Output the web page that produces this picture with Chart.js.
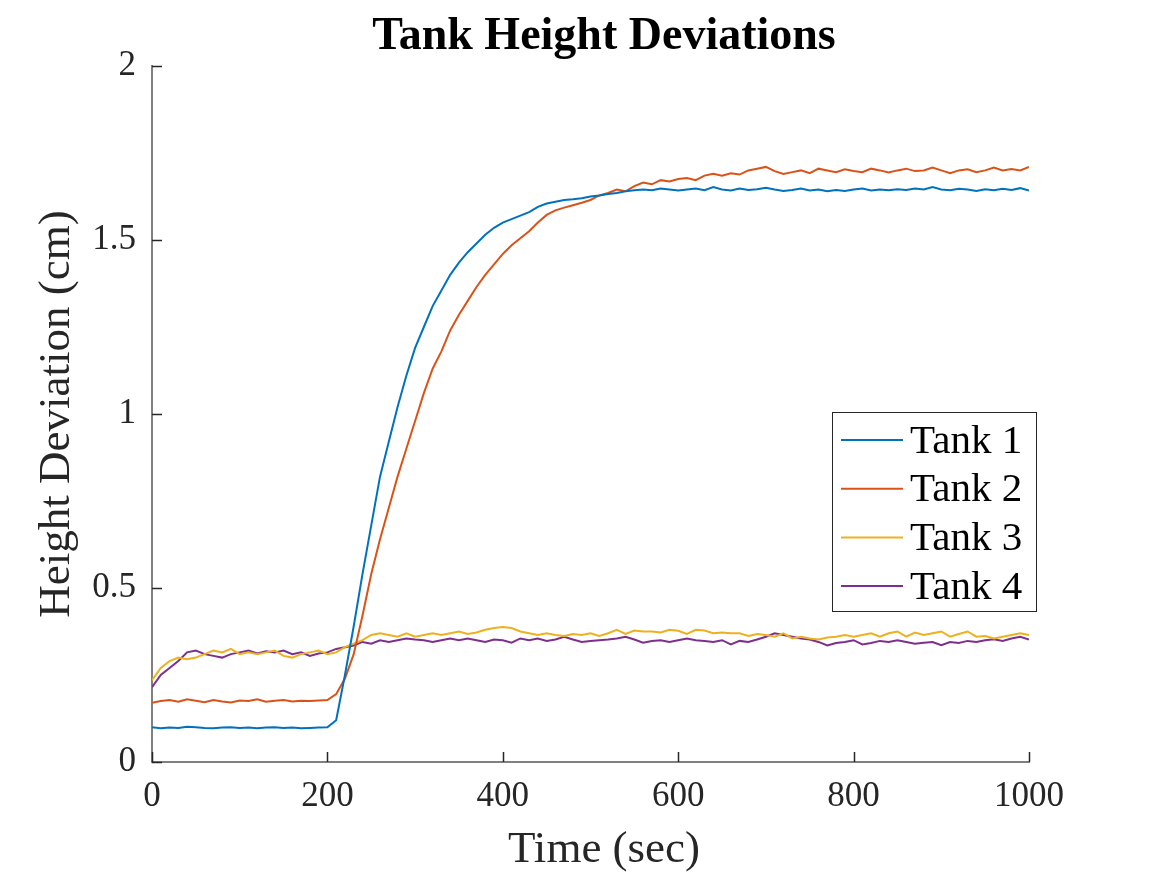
<!DOCTYPE html>
<html>
<head>
<meta charset="utf-8">
<script src="https://cdn.jsdelivr.net/npm/chart.js@4.4.1/dist/chart.umd.min.js"></script>
<style>
  html, body { margin: 0; padding: 0; background: #fff; }
</style>
</head>
<body>
<canvas id="myChart" width="1167" height="875"></canvas>
<script>
// time stamps (sec)
const time = [0, 10, 20, 30, 40, 50, 60, 70, 80, 90,
  100, 110, 120, 130, 140, 150, 160, 170, 180, 190,
  200, 210, 220, 230, 240, 250, 260, 270, 280, 290,
  300, 310, 320, 330, 340, 350, 360, 370, 380, 390,
  400, 410, 420, 430, 440, 450, 460, 470, 480, 490,
  500, 510, 520, 530, 540, 550, 560, 570, 580, 590,
  600, 610, 620, 630, 640, 650, 660, 670, 680, 690,
  700, 710, 720, 730, 740, 750, 760, 770, 780, 790,
  800, 810, 820, 830, 840, 850, 860, 870, 880, 890,
  900, 910, 920, 930, 940, 950, 960, 970, 980, 990, 1000];

const tank1 = [0.100, 0.097, 0.099, 0.098, 0.101, 0.100, 0.098, 0.097, 0.099, 0.100,
  0.098, 0.099, 0.097, 0.099, 0.100, 0.098, 0.099, 0.097, 0.098, 0.099,
  0.100, 0.12, 0.25, 0.39, 0.54, 0.68, 0.82, 0.92, 1.02, 1.11,
  1.19, 1.25, 1.31, 1.355, 1.40, 1.435, 1.465, 1.49, 1.515, 1.535,
  1.55, 1.56, 1.57, 1.58, 1.595, 1.605, 1.61, 1.615, 1.617, 1.62,
  1.625, 1.628, 1.632, 1.635, 1.64, 1.643, 1.645, 1.643, 1.648, 1.645,
  1.642, 1.645, 1.648, 1.643, 1.652, 1.645, 1.642, 1.648, 1.644, 1.646,
  1.65, 1.645, 1.641, 1.644, 1.648, 1.642, 1.645, 1.64, 1.644, 1.641,
  1.645, 1.648, 1.642, 1.645, 1.643, 1.646, 1.644, 1.648, 1.645, 1.652,
  1.645, 1.643, 1.647, 1.645, 1.641, 1.646, 1.643, 1.647, 1.644, 1.649, 1.642];

const tank2 = [0.17, 0.175, 0.178, 0.173, 0.18, 0.176, 0.172, 0.178, 0.174, 0.171,
  0.177, 0.175, 0.18, 0.173, 0.176, 0.178, 0.174, 0.176, 0.175, 0.177,
  0.178, 0.195, 0.24, 0.31, 0.42, 0.54, 0.64, 0.73, 0.82, 0.90,
  0.98, 1.06, 1.13, 1.18, 1.24, 1.285, 1.325, 1.365, 1.40, 1.43,
  1.46, 1.485, 1.505, 1.525, 1.55, 1.572, 1.585, 1.593, 1.60, 1.607,
  1.615, 1.628, 1.635, 1.645, 1.64, 1.655, 1.665, 1.66, 1.672, 1.668,
  1.675, 1.678, 1.672, 1.685, 1.69, 1.685, 1.692, 1.688, 1.70, 1.705,
  1.71, 1.698, 1.69, 1.695, 1.70, 1.692, 1.705, 1.70, 1.695, 1.703,
  1.698, 1.695, 1.705, 1.70, 1.694, 1.70, 1.705, 1.698, 1.70, 1.708,
  1.70, 1.692, 1.70, 1.703, 1.695, 1.70, 1.708, 1.70, 1.704, 1.70, 1.71];

const tank3 = [0.235, 0.27, 0.29, 0.30, 0.295, 0.30, 0.31, 0.32, 0.315, 0.325,
  0.31, 0.315, 0.31, 0.315, 0.32, 0.305, 0.30, 0.31, 0.315, 0.32,
  0.31, 0.315, 0.33, 0.34, 0.35, 0.365, 0.37, 0.365, 0.36, 0.37,
  0.36, 0.365, 0.37, 0.365, 0.37, 0.375, 0.368, 0.372, 0.38, 0.385,
  0.388, 0.385, 0.375, 0.37, 0.365, 0.37, 0.365, 0.362, 0.368, 0.365,
  0.37, 0.362, 0.37, 0.38, 0.368, 0.378, 0.375, 0.375, 0.372, 0.38,
  0.377, 0.368, 0.38, 0.378, 0.37, 0.372, 0.37, 0.37, 0.362, 0.368,
  0.365, 0.36, 0.37, 0.355, 0.36, 0.355, 0.352, 0.358, 0.36, 0.365,
  0.36, 0.365, 0.37, 0.36, 0.37, 0.375, 0.36, 0.372, 0.365, 0.37,
  0.375, 0.36, 0.368, 0.375, 0.36, 0.362, 0.355, 0.36, 0.365, 0.37, 0.365];

const tank4 = [0.215, 0.25, 0.27, 0.29, 0.315, 0.32, 0.31, 0.305, 0.30, 0.31,
  0.315, 0.32, 0.312, 0.318, 0.315, 0.32, 0.31, 0.315, 0.305, 0.312,
  0.315, 0.325, 0.33, 0.335, 0.345, 0.34, 0.35, 0.345, 0.35, 0.355,
  0.352, 0.35, 0.345, 0.35, 0.355, 0.35, 0.355, 0.35, 0.345, 0.352,
  0.35, 0.343, 0.355, 0.35, 0.355, 0.348, 0.352, 0.36, 0.352, 0.345,
  0.348, 0.35, 0.352, 0.355, 0.36, 0.352, 0.343, 0.348, 0.35, 0.345,
  0.35, 0.355, 0.35, 0.348, 0.345, 0.35, 0.338, 0.348, 0.345, 0.352,
  0.36, 0.37, 0.365, 0.36, 0.355, 0.352, 0.345, 0.335, 0.342, 0.345,
  0.35, 0.338, 0.342, 0.348, 0.345, 0.35, 0.345, 0.34, 0.343, 0.345,
  0.336, 0.345, 0.342, 0.348, 0.345, 0.35, 0.353, 0.348, 0.355, 0.36, 0.352];

const seriesNames = ['Tank 1', 'Tank 2', 'Tank 3', 'Tank 4'];
const seriesColors = ['#0072BD', '#D95319', '#EDB120', '#7E2F8E'];
const xTicks = [0, 200, 400, 600, 800, 1000];
const yTicks = [0, 0.5, 1, 1.5, 2];

const serif = "'Liberation Serif', 'Times New Roman', serif";
const ink = '#262626';

const toPoints = (ys) => time.map((t, i) => ({ x: t, y: ys[i] }));

// title, axis labels, inward tick marks and the boxed legend
const decor = {
  id: 'decor',
  afterDraw(chart) {
    const ctx = chart.ctx;
    const area = chart.chartArea;
    const sx = chart.scales.x, sy = chart.scales.y;
    ctx.save();

    ctx.strokeStyle = ink;
    ctx.lineWidth = 1.5;
    xTicks.forEach(v => {
      const px = Math.round(sx.getPixelForValue(v)) + 0.5;
      ctx.beginPath(); ctx.moveTo(px, area.bottom); ctx.lineTo(px, area.bottom - 10); ctx.stroke();
    });
    yTicks.forEach(v => {
      const py = Math.round(sy.getPixelForValue(v)) + 0.5;
      ctx.beginPath(); ctx.moveTo(area.left, py); ctx.lineTo(area.left + 10, py); ctx.stroke();
    });

    ctx.fillStyle = '#000';
    ctx.textAlign = 'center';
    ctx.textBaseline = 'middle';
    ctx.font = 'bold 46px ' + serif;
    ctx.fillText('Tank Height Deviations', 604, 37);

    ctx.fillStyle = ink;
    ctx.font = '45px ' + serif;
    ctx.fillText('Time (sec)', 604, 850);
    ctx.save();
    ctx.translate(57, 414);
    ctx.rotate(-Math.PI / 2);
    ctx.fillText('Height Deviation (cm)', 0, 0);
    ctx.restore();

    // legend box
    const bx = 832, by = 412, bw = 204, bh = 199;
    ctx.fillStyle = '#fff';
    ctx.fillRect(bx, by, bw, bh);
    ctx.strokeStyle = ink;
    ctx.lineWidth = 1;
    ctx.strokeRect(bx + 0.5, by + 0.5, bw, bh);
    ctx.font = '41px ' + serif;
    ctx.textAlign = 'left';
    chart.data.datasets.forEach((ds, i) => {
      const cy = 440 + i * 48.7;
      ctx.strokeStyle = ds.borderColor;
      ctx.lineWidth = 2;
      ctx.beginPath(); ctx.moveTo(841, cy); ctx.lineTo(903, cy); ctx.stroke();
      ctx.fillStyle = '#000';
      ctx.fillText(ds.label, 910, cy + 2);
    });

    ctx.restore();
  }
};

const ctx = document.getElementById('myChart').getContext('2d');
const chart = new Chart(ctx, {
  type: 'line',
  data: {
    datasets: seriesNames.map((name, i) => ({
      label: name,
      data: toPoints([tank1, tank2, tank3, tank4][i]),
      borderColor: seriesColors[i],
      backgroundColor: seriesColors[i],
      borderWidth: 2,
      pointRadius: 0,
      tension: 0,
      fill: false
    }))
  },
  options: {
    responsive: false,
    animation: false,
    layout: { padding: { top: 66, right: 138, left: 0, bottom: 0 } },
    plugins: {
      legend: { display: false },
      title: { display: false },
      tooltip: { enabled: false }
    },
    scales: {
      x: {
        type: 'linear',
        min: 0, max: 1000,
        afterFit: (s) => { s.height = 113; },
        afterBuildTicks: (s) => { s.ticks = xTicks.map(v => ({ value: v })); },
        grid: { display: false, drawTicks: false },
        border: { display: true, color: '#808080', width: 2 },
        ticks: { color: ink, padding: 14, maxRotation: 0, callback: (v) => String(v), font: { family: serif, size: 35 } }
      },
      y: {
        min: 0, max: 2,
        afterFit: (s) => { s.width = 152; },
        afterBuildTicks: (s) => { s.ticks = yTicks.map(v => ({ value: v })); },
        grid: { display: false, drawTicks: false },
        border: { display: true, color: '#808080', width: 2 },
        ticks: { color: ink, padding: 16, callback: (v) => String(v), font: { family: serif, size: 35 } }
      }
    }
  },
  plugins: [decor]
});
</script>
</body>
</html>
